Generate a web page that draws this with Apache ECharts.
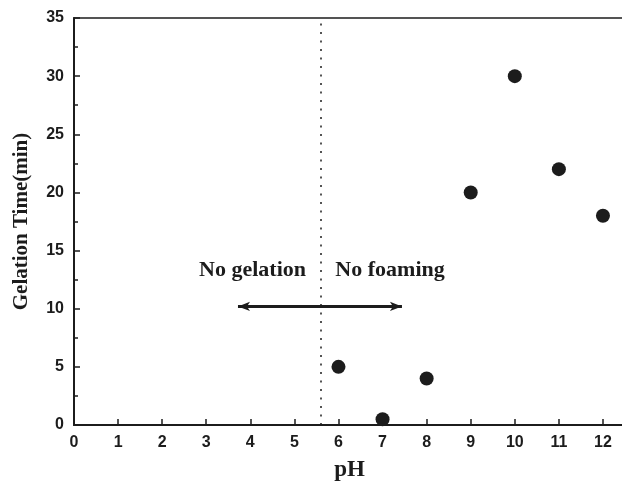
<!DOCTYPE html>
<html>
<head>
	<meta charset="utf-8">
	<title>Gelation time vs pH</title>
	<script type="text/javascript" src="https://cdn.jsdelivr.net/npm/echarts@6/dist/echarts.min.js"></script>
	<style>body{margin:0;background:#fff;}</style>
</head>
<body>
	<div id="mychart" style="width:622px;height:492px;"></div>

	<script type="text/javascript">
		// data
		var phValues = [6, 7, 8, 9, 10, 11, 12];
		var gelTimes = [5, 0.5, 4, 20, 30, 22, 18];
		var boundaryPH = 5.6;
		var arrowFrom = [3.72, 10.2];
		var arrowTo = [7.44, 10.2];
		var notes = [
			{text: 'No gelation', x: 4.05, y: 13.3},
			{text: 'No foaming', x: 7.17, y: 13.3}
		];

		var ink = '#1c1c1c';
		var chart = echarts.init(document.getElementById('mychart'));

		var option = {
			animation: false,
			backgroundColor: '#fff',
			grid: {
				left: 74, right: -3, top: 18, bottom: 67,
				outerBoundsMode: 'none',
				containLabel: false,
				show: true, borderColor: ink, borderWidth: 1.5
			},
			xAxis: {
				type: 'value',
				min: 0, max: 12.5, interval: 1,
				name: 'pH', nameLocation: 'middle', nameGap: 34,
				nameTextStyle: {fontFamily: 'Liberation Serif', fontWeight: 'bold', fontSize: 23, color: ink},
				axisLine: {lineStyle: {color: ink, width: 2}},
				axisTick: {inside: true, length: 6, lineStyle: {color: ink, width: 1.5}},
				axisLabel: {
					fontFamily: 'Liberation Sans', fontWeight: 'bold', fontSize: 16, color: ink, margin: 10,
					formatter: function (v) { return v <= 12 ? v : ''; }
				},
				splitLine: {show: false}
			},
			yAxis: {
				type: 'value',
				min: 0, max: 35, interval: 5,
				name: 'Gelation Time(min)', nameLocation: 'middle', nameGap: 42,
				nameTextStyle: {fontFamily: 'Liberation Serif', fontWeight: 'bold', fontSize: 21, color: ink},
				axisLine: {show: true, lineStyle: {color: ink, width: 2}},
				axisTick: {inside: true, length: 6, lineStyle: {color: ink, width: 1.5}},
				minorTick: {show: true, splitNumber: 2, length: 4, lineStyle: {color: ink, width: 1.5}},
				axisLabel: {fontFamily: 'Liberation Sans', fontWeight: 'bold', fontSize: 16, color: ink, margin: 10},
				splitLine: {show: false}
			},
			series: [
				{
					type: 'scatter',
					symbol: 'circle',
					symbolSize: 14,
					itemStyle: {color: ink, opacity: 1},
					data: phValues.map(function (p, i) { return [p, gelTimes[i]]; }),
					markLine: {
						silent: true,
						symbol: 'none',
						label: {show: false},
						lineStyle: {color: ink, type: [2, 6.5], width: 1.5},
						data: [{xAxis: boundaryPH}]
					},
					markPoint: {
						silent: true,
						symbol: 'circle',
						symbolSize: 0,
						label: {
							show: true,
							position: 'inside',
							fontFamily: 'Liberation Serif', fontWeight: 'bold', fontSize: 22, color: ink,
							formatter: function (p) { return p.name; }
						},
						data: notes.map(function (n) { return {name: n.text, coord: [n.x, n.y]}; })
					}
				},
				{
					type: 'line',
					data: [],
					markLine: {
						silent: true,
						symbol: ['arrow', 'arrow'],
						symbolSize: [7, 12],
						label: {show: false},
						lineStyle: {color: ink, type: 'solid', width: 3},
						data: [[{coord: arrowFrom}, {coord: arrowTo}]]
					}
				}
			]
		};

		chart.setOption(option);
	</script>
</body>
</html>
